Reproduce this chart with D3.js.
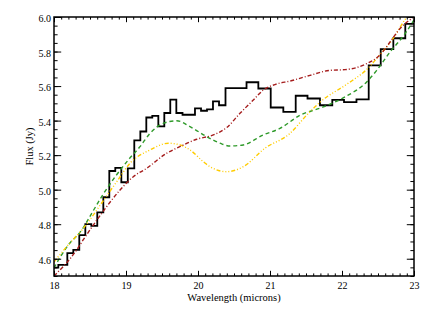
<!DOCTYPE html>
<html>
<head>
<meta charset="utf-8">
<script src="https://cdn.jsdelivr.net/npm/d3@7"></script>
<style>
  body { margin: 0; background: #fff; }
</style>
</head>
<body>
<svg id="chart"></svg>
<script>
// observed spectrum, stepped: start wavelength of each bin + flux
const binStart = [18.000, 18.060, 18.185, 18.268, 18.351, 18.435, 18.518, 18.601, 18.685, 18.768,
                  18.851, 18.935, 19.025, 19.115, 19.199, 19.282, 19.365, 19.449, 19.532, 19.615,
                  19.699, 19.785, 19.958, 20.042, 20.125, 20.208, 20.292, 20.382, 20.674, 20.838,
                  21.010, 21.185, 21.357, 21.521, 21.694, 21.865, 22.028, 22.201, 22.371, 22.538,
                  22.713, 22.879]
const binEnd = 23.0
const binFlux = [4.548, 4.564, 4.632, 4.651, 4.737, 4.801, 4.790, 4.869, 4.956, 5.108,
                 5.126, 5.043, 5.123, 5.285, 5.337, 5.418, 5.427, 5.366, 5.444, 5.522,
                 5.444, 5.434, 5.471, 5.457, 5.465, 5.511, 5.489, 5.588, 5.622, 5.586,
                 5.476, 5.451, 5.544, 5.528, 5.489, 5.520, 5.507, 5.523, 5.720, 5.814,
                 5.877, 5.960]

// model curves
const greenWl   = [18.00, 18.08, 18.20, 18.385, 18.524, 18.685, 18.85, 19.032, 19.194, 19.333, 19.518, 19.704,
                   19.889, 20.121, 20.306, 20.444, 20.629, 20.907, 21.139, 21.417, 21.740, 22.042,
                   22.343, 22.482, 22.667, 22.875, 23.00]
const greenFlux = [4.546, 4.605, 4.680, 4.766, 4.863, 4.975, 5.075, 5.172, 5.249, 5.326, 5.384, 5.399,
                   5.365, 5.307, 5.269, 5.253, 5.259, 5.317, 5.355, 5.431, 5.479, 5.537,
                   5.624, 5.691, 5.797, 5.903, 5.983]

const yellowWl   = [18.00, 18.176, 18.407, 18.708, 18.871, 19.056, 19.333, 19.588, 19.75, 19.889,
                    20.074, 20.167, 20.399, 20.629, 20.93, 21.278, 21.510, 21.722, 22.065, 22.343,
                    22.528, 22.713, 22.875, 23.00]
const yellowFlux = [4.581, 4.670, 4.776, 4.950, 5.046, 5.153, 5.230, 5.269, 5.259, 5.230,
                    5.162, 5.133, 5.104, 5.133, 5.240, 5.326, 5.432, 5.516, 5.610, 5.696,
                    5.782, 5.877, 5.985, 6.050]

const redWl   = [18.00, 18.315, 18.407, 18.663, 18.917, 19.101, 19.288, 19.565, 19.726, 19.982,
                 20.213, 20.399, 20.583, 20.768, 20.907, 21.093, 21.278, 21.556, 21.833, 22.042,
                 22.343, 22.528, 22.667, 22.806, 23.00]
const redFlux = [4.500, 4.651, 4.710, 4.863, 4.998, 5.075, 5.124, 5.211, 5.245, 5.292,
                 5.317, 5.360, 5.442, 5.519, 5.577, 5.612, 5.629, 5.662, 5.691, 5.695,
                 5.730, 5.780, 5.855, 5.933, 6.000]

const xTicks = [18, 19, 20, 21, 22, 23]
const yTicks = [4.6, 4.8, 5.0, 5.2, 5.4, 5.6, 5.8, 6.0]

const serif = "'Liberation Serif', 'Times New Roman', 'DejaVu Serif', serif"

let W = 431, H = 311
let margin = {left: 54, top: 17, right: 17, bottom: 35}
let svg = d3.select("#chart").attr("width", W).attr("height", H)

let x = d3.scaleLinear().domain([18, 23]).range([margin.left, W - margin.right])
let y = d3.scaleLinear().domain([4.5, 6.0]).range([H - margin.bottom, margin.top])
let pw = W - margin.left - margin.right, ph = H - margin.top - margin.bottom

svg.append("defs").append("clipPath").attr("id", "clip")
    .append("rect").attr("x", margin.left).attr("y", margin.top).attr("width", pw).attr("height", ph)

let plot = svg.append("g").attr("clip-path", "url(#clip)")

// histogram
let steps = binStart.map((w, i) => [w, binFlux[i]])
steps.push([binEnd, binFlux[binFlux.length - 1]])
plot.append("path")
    .attr("d", d3.line().x(d => x(d[0])).y(d => y(d[1])).curve(d3.curveStepAfter)(steps))
    .attr("fill", "none").attr("stroke", "#000").attr("stroke-width", 1.8)

function curve(wl, fl, color, dash) {
    let pts = wl.map((w, i) => [w, fl[i]])
    plot.append("path")
        .attr("d", d3.line().x(d => x(d[0])).y(d => y(d[1])).curve(d3.curveMonotoneX)(pts))
        .attr("fill", "none").attr("stroke", color).attr("stroke-width", 1.4)
        .attr("stroke-dasharray", dash)
}
curve(greenWl, greenFlux, "#2f9a2a", "4,3")
curve(yellowWl, yellowFlux, "#ffcc00", "4,2,1,2,1,2,1,2")
curve(redWl, redFlux, "#a51c1c", "4,2,1,2")

// axes (ticks inward on all four sides)
function styleAxis(g) {
    g.attr("font-family", serif)
    g.select(".domain").remove()
    g.selectAll("line").attr("stroke", "#000").attr("stroke-width", 1)
    g.selectAll("text").attr("fill", "#000").attr("font-family", serif).style("font-size", "10px")
}
let xMinor = d3.range(18, 23.001, 0.1).map(v => +v.toFixed(1))
let yMinor = d3.range(4.5, 6.0001, 0.05).map(v => +v.toFixed(2))

svg.append("g").attr("transform", `translate(0,${H - margin.bottom})`)
    .call(d3.axisBottom(x).tickValues(xMinor).tickSize(-2.6).tickFormat(""))
    .call(styleAxis)
svg.append("g").attr("transform", `translate(0,${H - margin.bottom})`)
    .call(d3.axisBottom(x).tickValues(xTicks).tickSize(-5.2).tickPadding(5.5).tickFormat(d3.format("d")))
    .call(styleAxis)
svg.append("g").attr("transform", `translate(0,${margin.top})`)
    .call(d3.axisTop(x).tickValues(xMinor).tickSize(-2.6).tickFormat(""))
    .call(styleAxis)
svg.append("g").attr("transform", `translate(0,${margin.top})`)
    .call(d3.axisTop(x).tickValues(xTicks).tickSize(-5.2).tickFormat(""))
    .call(styleAxis)

svg.append("g").attr("transform", `translate(${margin.left},0)`)
    .call(d3.axisLeft(y).tickValues(yMinor).tickSize(-3.6).tickFormat(""))
    .call(styleAxis)
svg.append("g").attr("transform", `translate(${margin.left},0)`)
    .call(d3.axisLeft(y).tickValues(yTicks).tickSize(-7.2).tickPadding(3).tickFormat(d3.format(".1f")))
    .call(styleAxis)
    .selectAll("text").attr("dy", "0.45em")
svg.append("g").attr("transform", `translate(${W - margin.right},0)`)
    .call(d3.axisRight(y).tickValues(yMinor).tickSize(-3.6).tickFormat(""))
    .call(styleAxis)
svg.append("g").attr("transform", `translate(${W - margin.right},0)`)
    .call(d3.axisRight(y).tickValues(yTicks).tickSize(-7.2).tickFormat(""))
    .call(styleAxis)

// frame
svg.append("rect")
    .attr("x", margin.left).attr("y", margin.top).attr("width", pw).attr("height", ph)
    .attr("fill", "none").attr("stroke", "#000").attr("stroke-width", 1.5)

// titles
svg.append("text")
    .attr("x", margin.left + pw / 2).attr("y", 301)
    .attr("text-anchor", "middle").attr("font-family", serif).style("font-size", "10.5px")
    .text("Wavelength (microns)")
svg.append("text")
    .attr("transform", `translate(33,${margin.top + ph / 2}) rotate(-90)`)
    .attr("text-anchor", "middle").attr("font-family", serif).style("font-size", "10.5px")
    .text("Flux (Jy)")
</script>
</body>
</html>
